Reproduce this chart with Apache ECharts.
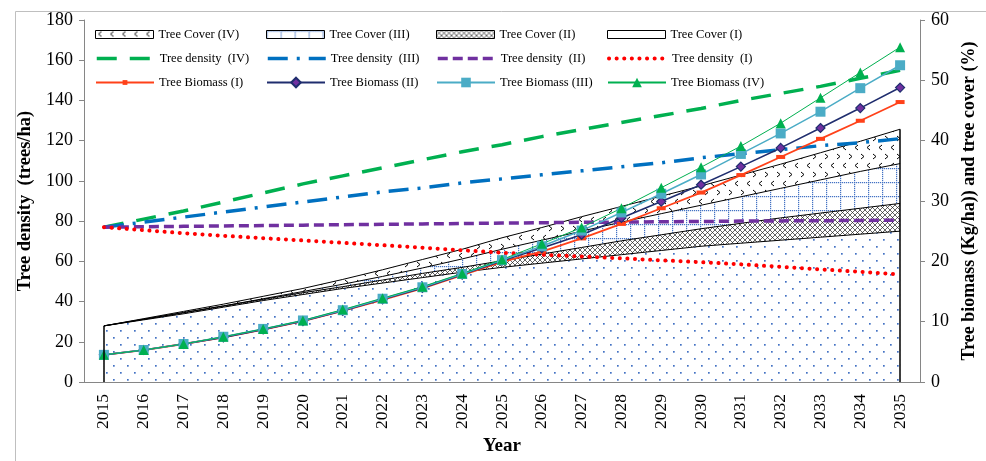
<!DOCTYPE html>
<html>
<head>
<meta charset="utf-8">
<script src="https://cdn.jsdelivr.net/npm/echarts@6/dist/echarts.min.js"></script>
<style>html,body{margin:0;padding:0;background:#fff}#c{width:986px;height:461px}</style>
</head>
<body>
<div id="c"></div>
<script>
// ---------- DATA ----------
const years = ['2015','2016','2017','2018','2019','2020','2021','2022','2023','2024','2025','2026','2027','2028','2029','2030','2031','2032','2033','2034','2035'];
// Tree density (trees/ha) - left axis
const densityIV  = [77, 81, 85, 89.5, 94, 98.5, 102.5, 106.5, 110.5, 114.5, 118, 122, 125.5, 129, 132.5, 136, 140, 143.5, 147, 151, 155];
const densityIII = [77, 79.5, 82, 84.5, 87, 89.5, 92, 94.5, 96.5, 99, 101, 103, 105, 107, 109, 111.5, 113.5, 115.5, 117.5, 119, 121];
const densityII  = [77, 77.2, 77.4, 77.6, 77.8, 78, 78.2, 78.4, 78.6, 78.8, 79, 79.2, 79.4, 79.5, 79.7, 79.8, 80, 80.1, 80.2, 80.3, 80.5];
const densityI   = [77, 75.5, 74, 72.7, 71.5, 70.4, 69.2, 68, 66.8, 65.5, 64.3, 63.3, 62.4, 61.5, 60.5, 59.6, 58.5, 57.3, 56, 54.8, 53.5];
// Tree biomass (Kg/ha) - right axis
const biomassI   = [4.5, 5.3, 6.3, 7.4, 8.7, 10.1, 11.8, 13.6, 15.5, 17.7, 19.9, 21.6, 23.8, 26.2, 28.8, 31.4, 34.3, 37.3, 40.3, 43.3, 46.4];
const biomassII  = [4.5, 5.3, 6.3, 7.4, 8.7, 10.1, 11.8, 13.7, 15.6, 17.8, 20.1, 22.2, 24.4, 27.2, 29.9, 32.7, 35.7, 38.8, 42.1, 45.4, 48.8];
const biomassIII = [4.5, 5.3, 6.3, 7.5, 8.8, 10.2, 11.9, 13.8, 15.7, 17.9, 20.2, 22.5, 25.1, 28.1, 31.2, 34.4, 37.8, 41.2, 44.8, 48.7, 52.5];
const biomassIV  = [4.5, 5.3, 6.3, 7.5, 8.8, 10.2, 12.0, 13.9, 15.8, 18.0, 20.3, 22.9, 25.6, 28.8, 32.2, 35.6, 39.1, 42.9, 47.1, 51.3, 55.5];
// Tree cover (%) - right axis
const coverIV  = [9.3, 10.5, 11.7, 12.9, 14.2, 15.5, 17.0, 18.6, 20.3, 22.0, 23.9, 25.6, 27.4, 29.1, 30.8, 32.5, 34.3, 36.1, 38.0, 39.9, 41.9];
const coverIII = [9.3, 10.4, 11.5, 12.6, 13.8, 15.0, 16.2, 17.5, 18.9, 20.4, 22.0, 23.5, 25.0, 26.5, 27.9, 29.3, 30.7, 32.1, 33.5, 34.9, 36.2];
const coverII  = [9.3, 10.4, 11.5, 12.6, 13.7, 14.8, 15.8, 16.9, 18.0, 19.0, 20.1, 21.2, 22.3, 23.4, 24.4, 25.4, 26.3, 27.2, 28.0, 28.8, 29.6];
const coverI   = [9.3, 10.3, 11.3, 12.4, 13.5, 14.5, 15.5, 16.4, 17.3, 18.2, 19.0, 19.7, 20.4, 21.1, 21.8, 22.5, 23.0, 23.5, 24.0, 24.5, 25.0];
const leftAxis  = {min: 0, max: 180, interval: 20};
const rightAxis = {min: 0, max: 60, interval: 10};

// ---------- PATTERNS ----------
function makePattern(w, h, draw) {
  const c = document.createElement('canvas');
  c.width = w; c.height = h;
  const ctx = c.getContext('2d');
  ctx.fillStyle = '#fff'; ctx.fillRect(0, 0, w, h);
  draw(ctx);
  return {image: c, repeat: 'repeat'};
}
const patI = makePattern(14, 14, ctx => {
  ctx.fillStyle = '#4472C4';
  ctx.fillRect(1, 1, 1.7, 1.7); ctx.fillRect(8, 8, 1.7, 1.7);
});
const patII = makePattern(5, 5, ctx => {
  ctx.strokeStyle = '#222'; ctx.lineWidth = 0.7;
  ctx.beginPath();
  ctx.moveTo(-1, -1); ctx.lineTo(6, 6);
  ctx.moveTo(6, -1); ctx.lineTo(-1, 6);
  ctx.stroke();
});
const patIII = makePattern(14, 14, ctx => {
  ctx.fillStyle = '#4472C4';
  for (let i = 0; i < 14; i += 2) { ctx.fillRect(i, 0, 1.2, 1.2); ctx.fillRect(0, i, 1.2, 1.2); }
});
const patIV = makePattern(24, 18, ctx => {
  ctx.strokeStyle = '#000'; ctx.lineWidth = 1;
  ctx.beginPath();
  ctx.moveTo(6, 1); ctx.lineTo(3, 3.5); ctx.lineTo(6, 6);
  ctx.moveTo(18, 1); ctx.lineTo(15, 3.5); ctx.lineTo(18, 6);
  ctx.moveTo(9, 10); ctx.lineTo(12, 12.5); ctx.lineTo(9, 15);
  ctx.moveTo(21, 10); ctx.lineTo(24, 12.5); ctx.lineTo(21, 15);
  ctx.stroke();
});

const FONT = 'Liberation Serif';
const AXC = '#868686';

// ---------- LEGENDS ----------
const legendItems = [
  ['Tree Cover (IV)', 0, 0, patIV], ['Tree Cover (III)', 1, 0, patIII], ['Tree Cover (II)', 2, 0, patII], ['Tree Cover (I)', 3, 0, '#fff'],
  ['Tree density  (IV)', 0, 1], ['Tree density  (III)', 1, 1], ['Tree density  (II)', 2, 1], ['Tree density  (I)', 3, 1],
  ['Tree Biomass (I)', 0, 2], ['Tree Biomass (II)', 1, 2], ['Tree Biomass (III)', 2, 2], ['Tree Biomass (IV)', 3, 2]
];
const colX = [95, 266, 436, 607];
const rowY = [35, 59, 83];
const legends = legendItems.map(([name, c, r, pat]) => {
  const isCover = pat !== undefined;
  const isDensity = r === 1;
  const isSmallMarker = name === 'Tree Biomass (I)';
  const lg = {
    left: colX[c], top: rowY[r] - 7, padding: 0,
    itemWidth: 58, itemHeight: isCover ? 8 : (isSmallMarker ? 6 : 12),
    selectedMode: false,
    textStyle: {fontFamily: FONT, fontSize: 12.5, color: '#000'},
    data: [isCover ? {name, icon: 'rect', itemStyle: {color: pat, borderColor: '#000', borderWidth: 1}} : name]
  };
  if (isDensity) {
    lg.itemStyle = {opacity: 0};
    lg.lineStyle = {width: name.indexOf('(I)') > 0 ? 4 : 3.5};
  }
  return lg;
});

function coverSeries(name, data, pat, extra) {
  return Object.assign({
    name, type: 'line', yAxisIndex: 1, data, symbol: 'none', z: 2,
    lineStyle: {color: '#000', width: 1},
    itemStyle: {color: '#000'},
    areaStyle: {color: pat, opacity: 1}
  }, extra || {});
}
function densitySeries(name, data, color, dash, cap, width) {
  return {
    name, type: 'line', yAxisIndex: 0, data, symbol: 'none', z: 3,
    lineStyle: {color, width: width || 3.5, type: dash, cap: cap || 'butt'},
    itemStyle: {color}
  };
}
function biomassSeries(name, data, color, symbol, size, fill, width) {
  return {
    name, type: 'line', yAxisIndex: 1, data, z: 4,
    symbol, symbolSize: size,
    lineStyle: {color, width},
    itemStyle: {color: fill, borderColor: color, borderWidth: fill === color ? 0 : 1.2}
  };
}

const first = years[0], last = years[years.length - 1];
const option = {
  animation: false,
  backgroundColor: '#fff',
  graphic: [{type: 'rect', left: 13, top: 9, shape: {width: 1100, height: 600}, style: {fill: 'none', stroke: '#BFBFBF', lineWidth: 1}, silent: true}],
  grid: {left: 84, right: 64, top: 20, bottom: 70},
  legend: legends,
  xAxis: {
    type: 'category', data: years, boundaryGap: true,
    axisLine: {lineStyle: {color: AXC}}, axisTick: {length: 5, lineStyle: {color: AXC}},
    axisLabel: {rotate: 90, fontFamily: FONT, fontSize: 17.5, color: '#000', margin: 12, interval: 0},
    name: 'Year', nameLocation: 'middle', nameGap: 55,
    nameTextStyle: {fontFamily: FONT, fontWeight: 'bold', fontSize: 19, color: '#000'}
  },
  yAxis: [{
    type: 'value', position: 'left', min: leftAxis.min, max: leftAxis.max, interval: leftAxis.interval,
    axisLine: {show: true, lineStyle: {color: AXC}}, axisTick: {show: true, length: 5, lineStyle: {color: AXC}},
    splitLine: {show: false},
    axisLabel: {fontFamily: FONT, fontSize: 18, color: '#000', margin: 11},
    name: 'Tree density  (trees/ha)', nameLocation: 'middle', nameGap: 48, nameRotate: 90,
    nameTextStyle: {fontFamily: FONT, fontWeight: 'bold', fontSize: 18.5, color: '#000'}
  }, {
    type: 'value', position: 'right', min: rightAxis.min, max: rightAxis.max, interval: rightAxis.interval,
    axisLine: {show: true, lineStyle: {color: AXC}}, axisTick: {show: true, length: 5, lineStyle: {color: AXC}},
    splitLine: {show: false},
    axisLabel: {fontFamily: FONT, fontSize: 18, color: '#000', margin: 11},
    name: 'Tree biomass (Kg/ha)) and tree cover (%)', nameLocation: 'middle', nameGap: 40, nameRotate: 90,
    nameTextStyle: {fontFamily: FONT, fontWeight: 'bold', fontSize: 18, color: '#000'}
  }],
  series: [
    coverSeries('Tree Cover (IV)', coverIV, patIV),
    coverSeries('Tree Cover (III)', coverIII, patIII),
    coverSeries('Tree Cover (II)', coverII, patII),
    coverSeries('Tree Cover (I)', coverI, patI, {
      markLine: {
        silent: true, symbol: 'none', label: {show: false},
        lineStyle: {color: '#000', width: 1.5, type: 'solid'},
        data: [
          [{coord: [first, 0]}, {coord: [first, coverIV[0]]}],
          [{coord: [last, 0]}, {coord: [last, coverIV[coverIV.length - 1]]}]
        ]
      }
    }),
    densitySeries('Tree density  (IV)', densityIV, '#00B050', [20, 13]),
    densitySeries('Tree density  (III)', densityIII, '#0070C0', [20, 9, 3, 9]),
    densitySeries('Tree density  (II)', densityII, '#7030A0', [10, 5]),
    densitySeries('Tree density  (I)', densityI, '#FF0000', [0.1, 7.5], 'round', 4),
    biomassSeries('Tree Biomass (I)', biomassI, '#FF4119', 'rect', [9, 4], '#FF4119', 1.8),
    biomassSeries('Tree Biomass (II)', biomassII, '#1F2D6E', 'diamond', 9, '#7030A0', 1.6),
    biomassSeries('Tree Biomass (III)', biomassIII, '#4BACC6', 'rect', 10, '#4BACC6', 1.5),
    biomassSeries('Tree Biomass (IV)', biomassIV, '#00B050', 'triangle', 10, '#00B050', 1)
  ]
};
const chart = echarts.init(document.getElementById('c'), null, {renderer: 'canvas'});
chart.setOption(option);
</script>
</body>
</html>
